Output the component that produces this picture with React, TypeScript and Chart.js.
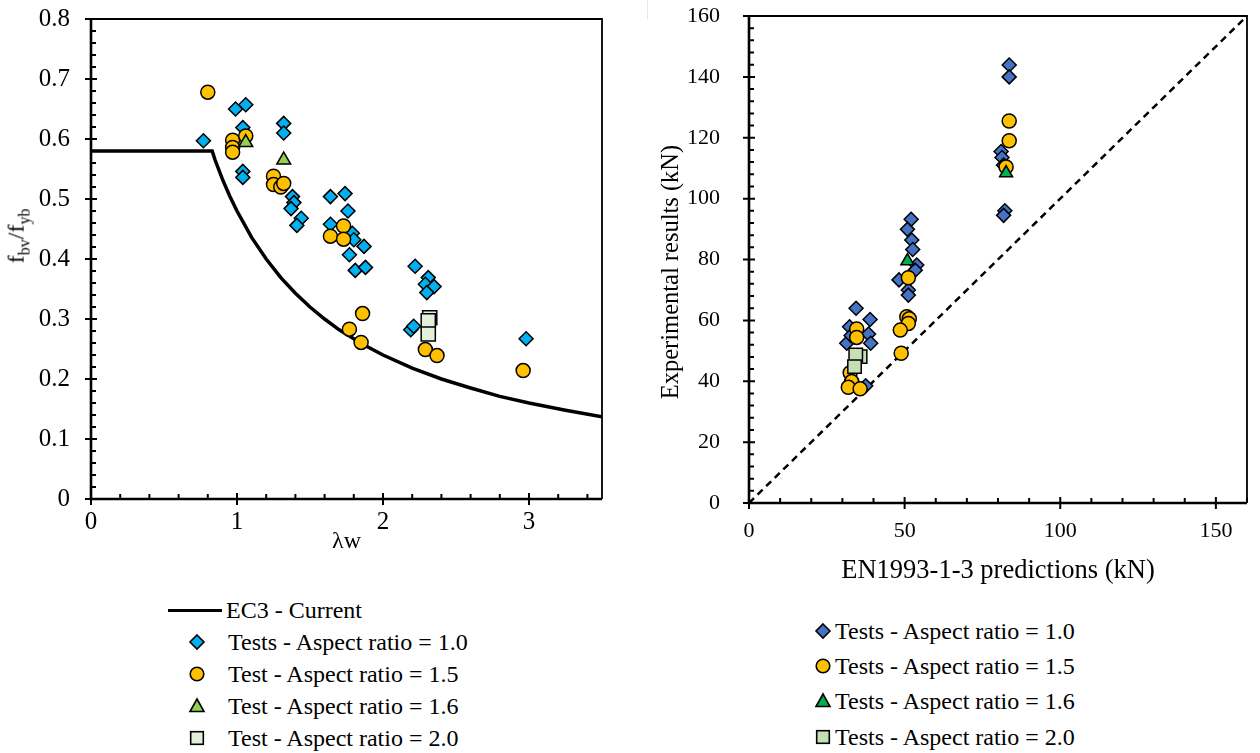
import React, { useEffect, useRef } from 'react';
import { Chart, registerables } from 'chart.js';
Chart.register(...registerables);

const FONT = '"Liberation Serif", "Times New Roman", serif';

// ---------- Left chart data (slenderness vs shear buckling ratio) ----------
const ec3Lambda = [0, 0.83, 0.85, 0.9, 0.95, 1.0, 1.1, 1.2, 1.3, 1.4, 1.5, 1.6, 1.7, 1.8, 1.9, 2.0, 2.2, 2.4, 2.6, 2.8, 3.0, 3.25, 3.5];
const ec3Ratio = [0.58, 0.58, 0.565, 0.533, 0.505, 0.48, 0.436, 0.4, 0.369, 0.343, 0.32, 0.3, 0.282, 0.267, 0.253, 0.24, 0.218, 0.2, 0.185, 0.171, 0.16, 0.148, 0.137];

const ar10Lambda = [0.77, 0.99, 1.06, 1.04, 1.04, 1.04, 1.32, 1.32, 1.38, 1.39, 1.37, 1.44, 1.41, 1.64, 1.74, 1.76, 1.64, 1.79, 1.80, 1.87, 1.77, 1.81, 1.88, 2.22, 2.31, 2.29, 2.35, 2.30, 2.19, 2.21, 2.98];
const ar10Ratio = [0.597, 0.650, 0.657, 0.619, 0.546, 0.536, 0.626, 0.610, 0.504, 0.494, 0.484, 0.468, 0.456, 0.504, 0.509, 0.480, 0.458, 0.443, 0.432, 0.421, 0.407, 0.381, 0.386, 0.388, 0.369, 0.358, 0.354, 0.344, 0.282, 0.288, 0.267];

const ar15Lambda = [0.80, 0.97, 0.97, 0.97, 1.06, 1.25, 1.25, 1.30, 1.32, 1.64, 1.73, 1.73, 1.86, 1.77, 1.85, 2.29, 2.37, 2.96];
const ar15Ratio = [0.678, 0.598, 0.586, 0.578, 0.605, 0.538, 0.524, 0.520, 0.526, 0.438, 0.455, 0.433, 0.309, 0.283, 0.261, 0.249, 0.239, 0.214];

const ar16Lambda = [1.06, 1.32];
const ar16Ratio = [0.594, 0.565];

const ar20Lambda = [2.32, 2.31, 2.31];
const ar20Ratio = [0.302, 0.297, 0.275];

const leftXTicks = [0, 1, 2, 3];
const leftYTicks = [0, 0.1, 0.2, 0.3, 0.4, 0.5, 0.6, 0.7, 0.8];

// ---------- Right chart data (predictions vs experiments, kN) ----------
const oneToOne = [0, 160];

const r10Pred = [34.4, 38.9, 32.3, 38.4, 39.1, 31.4, 32.8, 37.5, 52.1, 50.9, 52.3, 52.6, 53.9, 53.4, 48.2, 51.2, 51.2, 83.6, 83.6, 81.0, 81.3, 81.8, 82.2, 81.8];
const r10Exp = [64.0, 60.3, 57.9, 55.5, 52.5, 52.5, 55.0, 38.5, 93.2, 89.9, 86.4, 83.3, 78.2, 76.5, 73.3, 70.0, 68.3, 143.9, 140.0, 115.5, 113.5, 111.0, 96.0, 94.5];

const r15Pred = [34.6, 34.6, 32.5, 33.0, 31.9, 35.7, 51.2, 50.7, 51.5, 51.2, 48.6, 48.9, 83.6, 83.6, 82.6];
const r15Exp = [57.2, 54.4, 42.8, 39.9, 38.0, 37.5, 74.0, 61.2, 60.5, 59.0, 56.8, 49.2, 125.5, 119.0, 110.4];

const r16Pred = [50.9, 82.6];
const r16Exp = [79.5, 108.4];

const r20Pred = [35.7, 34.3, 33.9];
const r20Exp = [48.1, 48.6, 44.8];

const rightXTicks = [0, 50, 100, 150];
const rightYTicks = [0, 20, 40, 60, 80, 100, 120, 140, 160];

const pts = (xs: number[], ys: number[]) => xs.map((x, i) => ({ x, y: ys[i] }));

function framePlugin(xMinor: number, yMinor: number) {
  return {
    id: 'frame',
    afterDraw(chart: any) {
      const { ctx, chartArea: a, scales } = chart;
      const xs = scales.x;
      const ys = scales.y;
      ctx.save();
      ctx.strokeStyle = '#000';
      ctx.lineWidth = 1.8;
      ctx.beginPath();
      ctx.moveTo(a.left, a.top);
      ctx.lineTo(a.right, a.top);
      ctx.lineTo(a.right, a.bottom);
      ctx.stroke();
      ctx.lineWidth = 2.6;
      ctx.beginPath();
      ctx.moveTo(a.left, a.top);
      ctx.lineTo(a.left, a.bottom);
      ctx.lineTo(a.right, a.bottom);
      ctx.stroke();
      ctx.lineWidth = 2;
      ctx.beginPath();
      for (let v = xs.min; v <= xs.max + 1e-9; v += xMinor) {
        const px = xs.getPixelForValue(v);
        ctx.moveTo(px, a.bottom);
        ctx.lineTo(px, a.bottom - 5);
      }
      for (let v = ys.min; v <= ys.max + 1e-9; v += yMinor) {
        const py = ys.getPixelForValue(v);
        ctx.moveTo(a.left, py);
        ctx.lineTo(a.left + 5, py);
      }
      for (const t of xs.ticks) {
        const px = xs.getPixelForValue(t.value);
        ctx.moveTo(px, a.bottom - 6);
        ctx.lineTo(px, a.bottom + 6);
      }
      for (const t of ys.ticks) {
        const py = ys.getPixelForValue(t.value);
        ctx.moveTo(a.left - 6, py);
        ctx.lineTo(a.left + 6, py);
      }
      ctx.stroke();
      ctx.restore();
    },
  };
}

const noPad = (s: any) => {
  s.paddingTop = 0;
  s.paddingBottom = 0;
};

function LeftChart() {
  const ref = useRef<HTMLCanvasElement | null>(null);
  useEffect(() => {
    const H = 590;
    const chart = new Chart(ref.current as HTMLCanvasElement, {
      type: 'scatter',
      data: {
        datasets: [
          {
            label: 'EC3 - Current',
            data: pts(ec3Lambda, ec3Ratio),
            showLine: true,
            borderColor: '#000',
            borderWidth: 3.5,
            pointRadius: 0,
            tension: 0,
            order: 6,
          } as any,
          {
            label: 'Tests - Aspect ratio = 1.0',
            data: pts(ar10Lambda, ar10Ratio),
            pointStyle: 'rectRot',
            pointRadius: 7,
            backgroundColor: '#00B0F0',
            borderColor: '#000',
            borderWidth: 1.5,
            order: 4,
          },
          {
            label: 'Test - Aspect ratio = 1.5',
            data: pts(ar15Lambda, ar15Ratio),
            pointStyle: 'circle',
            pointRadius: 7,
            backgroundColor: '#FFC000',
            borderColor: '#000',
            borderWidth: 1.5,
            order: 3,
          },
          {
            label: 'Test - Aspect ratio = 1.6',
            data: pts(ar16Lambda, ar16Ratio),
            pointStyle: 'triangle',
            pointRadius: 8,
            backgroundColor: '#92D050',
            borderColor: '#000',
            borderWidth: 1.5,
            order: 2,
          },
          {
            label: 'Test - Aspect ratio = 2.0',
            data: pts(ar20Lambda, ar20Ratio),
            pointStyle: 'rect',
            pointRadius: 10,
            backgroundColor: '#E2EFDA',
            borderColor: '#000',
            borderWidth: 1.5,
            order: 1,
          },
        ],
      },
      options: {
        responsive: false,
        animation: false,
        events: [],
        layout: { padding: { top: 19, right: 38, left: 0, bottom: 0 } },
        plugins: { legend: { display: false }, tooltip: { enabled: false } },
        scales: {
          x: {
            type: 'linear',
            min: 0,
            max: 3.5,
            grid: { display: false },
            border: { display: false },
            afterBuildTicks: (s: any) => { s.ticks = leftXTicks.map((v) => ({ value: v })); },
            afterFit: (s: any) => { s.height = H - 499; },
            ticks: { color: '#000', font: { family: FONT, size: 25 }, padding: 0 },
            title: { display: true, text: 'λw', color: '#000', font: { family: FONT, size: 24 }, padding: { top: 0, bottom: 34 } },
          },
          y: {
            type: 'linear',
            min: 0,
            max: 0.8,
            grid: { display: false },
            border: { display: false },
            afterBuildTicks: (s: any) => { s.ticks = leftYTicks.map((v) => ({ value: v })); },
            afterFit: (s: any) => { s.width = 91; noPad(s); },
            ticks: {
              color: '#000',
              font: { family: FONT, size: 25 },
              padding: 13,
              callback: (v: any) => String(Math.round(Number(v) * 10) / 10),
            },
          },
        },
      },
      plugins: [framePlugin(0.2, 0.02)],
    } as any);
    return () => chart.destroy();
  }, []);
  return <canvas ref={ref} width={640} height={590} style={{ position: 'absolute', left: 0, top: 0 }} />;
}

function RightChart() {
  const ref = useRef<HTMLCanvasElement | null>(null);
  useEffect(() => {
    const H = 590;
    const chart = new Chart(ref.current as HTMLCanvasElement, {
      type: 'scatter',
      data: {
        datasets: [
          {
            label: '1:1',
            data: pts(oneToOne, oneToOne),
            showLine: true,
            borderColor: '#000',
            borderWidth: 2.5,
            borderDash: [7, 5],
            pointRadius: 0,
            order: 6,
          } as any,
          {
            label: 'Tests - Aspect ratio = 1.0',
            data: pts(r10Pred, r10Exp),
            pointStyle: 'rectRot',
            pointRadius: 7,
            backgroundColor: '#4472C4',
            borderColor: '#000',
            borderWidth: 1.5,
            order: 4,
          },
          {
            label: 'Tests - Aspect ratio = 1.5',
            data: pts(r15Pred, r15Exp),
            pointStyle: 'circle',
            pointRadius: 7,
            backgroundColor: '#FFC000',
            borderColor: '#000',
            borderWidth: 1.5,
            order: 3,
          },
          {
            label: 'Tests - Aspect ratio = 1.6',
            data: pts(r16Pred, r16Exp),
            pointStyle: 'triangle',
            pointRadius: 7.5,
            backgroundColor: '#00B050',
            borderColor: '#000',
            borderWidth: 1.5,
            order: 2,
          },
          {
            label: 'Tests - Aspect ratio = 2.0',
            data: pts(r20Pred, r20Exp),
            pointStyle: 'rect',
            pointRadius: 9.5,
            backgroundColor: '#C5E0B4',
            borderColor: '#000',
            borderWidth: 1.5,
            order: 1,
          },
        ],
      },
      options: {
        responsive: false,
        animation: false,
        events: [],
        layout: { padding: { top: 16, right: 13, left: 0, bottom: 0 } },
        plugins: { legend: { display: false }, tooltip: { enabled: false } },
        scales: {
          x: {
            type: 'linear',
            min: 0,
            max: 160,
            grid: { display: false },
            border: { display: false },
            afterBuildTicks: (s: any) => { s.ticks = rightXTicks.map((v) => ({ value: v })); },
            afterFit: (s: any) => { s.height = H - 503; },
            ticks: { color: '#000', font: { family: FONT, size: 22 }, padding: 7 },
            title: { display: true, text: 'EN1993-1-3 predictions (kN)', color: '#000', font: { family: FONT, size: 26.5 }, padding: { top: 0, bottom: 3 } },
          },
          y: {
            type: 'linear',
            min: 0,
            max: 160,
            grid: { display: false },
            border: { display: false },
            afterBuildTicks: (s: any) => { s.ticks = rightYTicks.map((v) => ({ value: v })); },
            afterFit: (s: any) => { s.width = 109; noPad(s); },
            ticks: { color: '#000', font: { family: FONT, size: 22 }, padding: 21 },
          },
        },
      },
      plugins: [framePlugin(10, 4)],
    } as any);
    return () => chart.destroy();
  }, []);
  return <canvas ref={ref} width={620} height={590} style={{ position: 'absolute', left: 640, top: 0 }} />;
}

type Mk = 'diamond' | 'circle' | 'triangle' | 'square';

function Marker({ kind, fill }: { kind: Mk; fill: string }) {
  const s = 18;
  const c = s / 2;
  let el: any = null;
  if (kind === 'diamond') el = <polygon points={`${c},${c - 7} ${c + 7},${c} ${c},${c + 7} ${c - 7},${c}`} fill={fill} stroke="#000" strokeWidth={1.6} />;
  if (kind === 'circle') el = <circle cx={c} cy={c} r={6.8} fill={fill} stroke="#000" strokeWidth={1.6} />;
  if (kind === 'triangle') el = <polygon points={`${c},${c - 7} ${c + 7},${c + 5.5} ${c - 7},${c + 5.5}`} fill={fill} stroke="#000" strokeWidth={1.6} />;
  if (kind === 'square') el = <rect x={c - 6.3} y={c - 6.3} width={12.6} height={12.6} fill={fill} stroke="#000" strokeWidth={1.6} />;
  return <svg width={s} height={s} style={{ display: 'block' }}>{el}</svg>;
}

const textStyle: React.CSSProperties = {
  position: 'absolute',
  fontFamily: FONT,
  fontSize: 24,
  lineHeight: '28px',
  color: '#000',
  whiteSpace: 'nowrap',
};

const leftLegend: { kind: Mk; fill: string; text: string; y: number }[] = [
  { kind: 'diamond', fill: '#00B0F0', text: 'Tests - Aspect ratio = 1.0', y: 641.5 },
  { kind: 'circle', fill: '#FFC000', text: 'Test - Aspect ratio = 1.5', y: 673.5 },
  { kind: 'triangle', fill: '#92D050', text: 'Test - Aspect ratio = 1.6', y: 706 },
  { kind: 'square', fill: '#E2EFDA', text: 'Test - Aspect ratio = 2.0', y: 738 },
];

const rightLegend: { kind: Mk; fill: string; text: string; y: number }[] = [
  { kind: 'diamond', fill: '#4472C4', text: 'Tests - Aspect ratio = 1.0', y: 630.7 },
  { kind: 'circle', fill: '#FFC000', text: 'Tests - Aspect ratio = 1.5', y: 665.5 },
  { kind: 'triangle', fill: '#00B050', text: 'Tests - Aspect ratio = 1.6', y: 701 },
  { kind: 'square', fill: '#C5E0B4', text: 'Tests - Aspect ratio = 2.0', y: 736.7 },
];

export default function App() {
  return (
    <div style={{ position: 'absolute', left: 0, top: 0, width: 1260, height: 753, background: '#fff', overflow: 'hidden' }}>
      <LeftChart />
      <RightChart />
      <div style={{ position: 'absolute', left: 647, top: 0, width: 1, height: 19, background: '#e6e6e6' }} />
      <div
        style={{
          ...textStyle,
          left: 20,
          top: 236,
          transform: 'translate(-50%, -50%) rotate(-90deg)',
        }}
      >
        f<sub style={{ fontSize: 16 }}>bv</sub>/f<sub style={{ fontSize: 16 }}>yb</sub>
      </div>
      <div
        style={{
          ...textStyle,
          fontSize: 24.5,
          left: 670,
          top: 272,
          transform: 'translate(-50%, -50%) rotate(-90deg)',
        }}
      >
        Experimental results (kN)
      </div>
      {/* Left legend */}
      <div style={{ position: 'absolute', left: 168, top: 608.5, width: 54, height: 3.5, background: '#000' }} />
      <div style={{ ...textStyle, left: 226, top: 610 - 14 }}>EC3 - Current</div>
      {leftLegend.map((r, i) => (
        <React.Fragment key={'l' + i}>
          <div style={{ position: 'absolute', left: 197 - 9, top: r.y - 9 }}>
            <Marker kind={r.kind} fill={r.fill} />
          </div>
          <div style={{ ...textStyle, left: 228, top: r.y - 14 }}>{r.text}</div>
        </React.Fragment>
      ))}
      {/* Right legend */}
      {rightLegend.map((r, i) => (
        <React.Fragment key={'r' + i}>
          <div style={{ position: 'absolute', left: 823 - 9, top: r.y - 9 }}>
            <Marker kind={r.kind} fill={r.fill} />
          </div>
          <div style={{ ...textStyle, left: 835, top: r.y - 14 }}>{r.text}</div>
        </React.Fragment>
      ))}
    </div>
  );
}
